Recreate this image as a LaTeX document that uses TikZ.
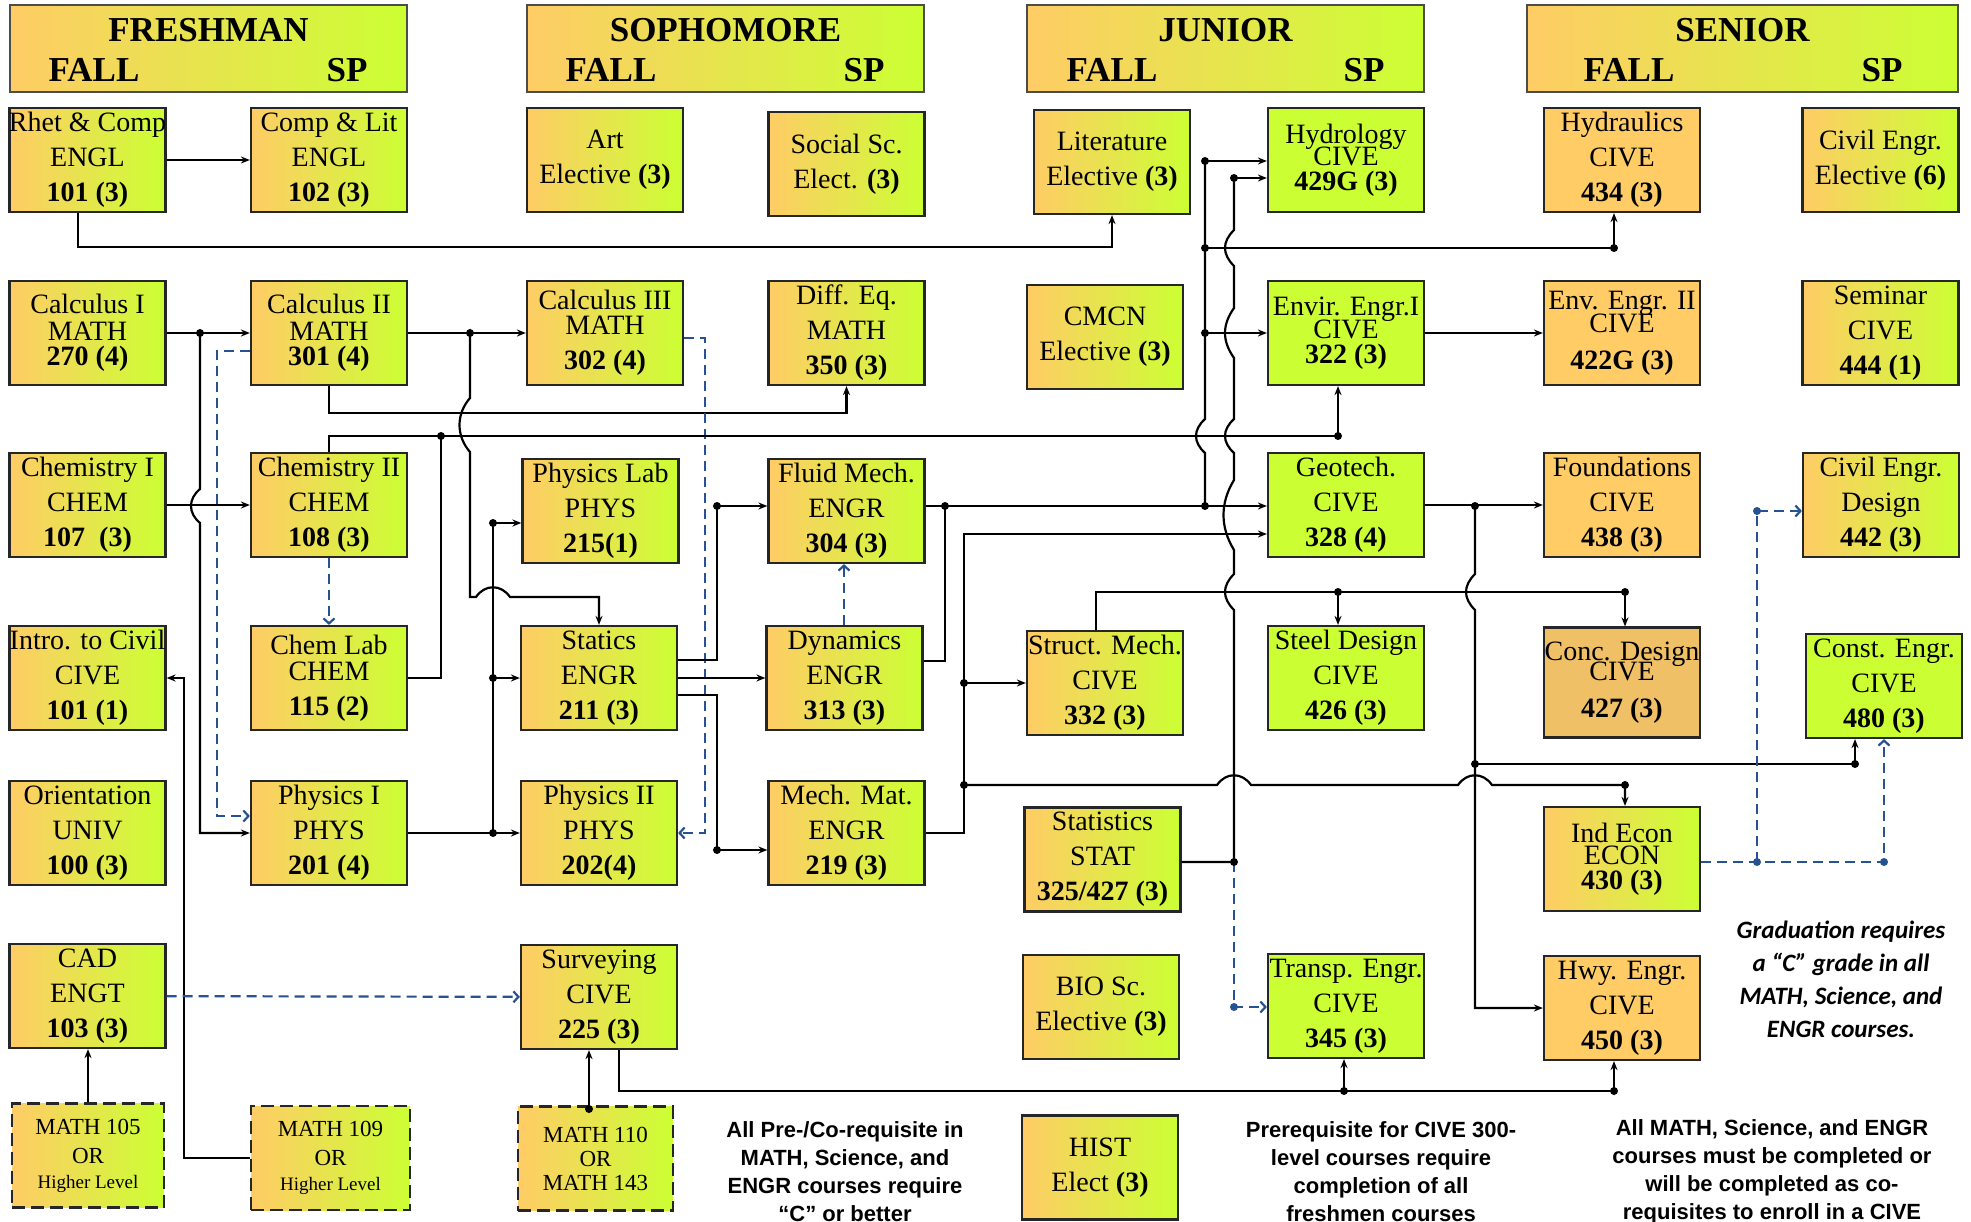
\documentclass[tikz,border=0pt]{standalone}
\usepackage{fontspec}
\setmainfont{Liberation Serif}
\newfontfamily\notefont{Liberation Sans}
\newfontfamily\gradfont{Carlito}
\usetikzlibrary{calc,arrows.meta}
\definecolor{orng}{RGB}{255,204,102}
\definecolor{lime}{RGB}{204,255,51}
\definecolor{tanc}{RGB}{240,192,102}
\definecolor{coblue}{RGB}{38,82,146}
\tikzset{
    course/.style={draw=black!85,line width=2.2pt,inner sep=0pt,minimum width=156pt,minimum height=104pt,align=center,left color=orng,right color=lime,font=\fontsize{28}{35}\selectfont},
    cgreen/.style={course,left color=lime,right color=lime},
    corange/.style={course,left color=orng,right color=orng},
    copt/.style={course,dash pattern=on 13pt off 6pt,font=\fontsize{23}{29}\selectfont},
    yearbox/.style={draw=black!70,line width=2pt,inner sep=0pt,minimum height=87pt,left color=orng,right color=lime},
    yeartxt/.style={inner sep=0pt,font=\fontsize{35}{35}\selectfont\bfseries},
    link/.style={line width=2.2pt},
    arr/.style={link,-{Stealth[length=9pt,width=7pt]}},
    coreq/.style={line width=2.2pt,draw=coblue,dash pattern=on 10pt off 6pt,-{Straight Barb[length=5pt,width=11pt]}},
    note/.style={align=center,font=\notefont\bfseries\fontsize{22}{28}\selectfont},
  }
\begin{document}
\begin{tikzpicture}[x=1pt,y=-1pt]
	\path[use as bounding box,fill=white] (0,0) rectangle (1971,1222);

	%YEARS
	\node[yearbox,minimum width=397pt] (fresh) at (208.5,48.5) {};
	\node[yeartxt] (freshN) at (208.5,30.5) {FRESHMAN};
	\node[yeartxt] (freshF) at (94,70) {FALL};
	\node[yeartxt] (freshS) at (347,70) {SP};
	\node[yearbox,minimum width=397pt] (soph) at (725.5,48.5) {};
	\node[yeartxt] (sophN) at (725.5,30.5) {SOPHOMORE};
	\node[yeartxt] (sophF) at (611,70) {FALL};
	\node[yeartxt] (sophS) at (864,70) {SP};
	\node[yearbox,minimum width=397pt] (jun) at (1225.5,48.5) {};
	\node[yeartxt] (junN) at (1225.5,30.5) {JUNIOR};
	\node[yeartxt] (junF) at (1112,70) {FALL};
	\node[yeartxt] (junS) at (1364,70) {SP};
	\node[yearbox,minimum width=431pt] (sen) at (1742.5,48.5) {};
	\node[yeartxt] (senN) at (1742.5,30.5) {SENIOR};
	\node[yeartxt] (senF) at (1629,70) {FALL};
	\node[yeartxt] (senS) at (1882,70) {SP};

	%ROW 1
	\node[course] (rhet) at (87.5,160) {\makebox[150pt]{Rhet \& Comp}\\ENGL\\\textbf{101 (3)}};
	\node[course] (comp) at (329,160) {Comp \& Lit\\ENGL\\\textbf{102 (3)}};
	\node[course] (art) at (605,160) {Art\\Elective \textbf{(3)}};
	\node[course] (soc) at (846.5,164) {Social Sc.\\Elect. \textbf{(3)}};
	\node[course] (lit) at (1112,162) {Literature\\Elective \textbf{(3)}};
	\node[cgreen] (hydro) at (1346,160) {Hydrology\\[-13pt]CIVE\\[-10pt]\textbf{429G (3)}};
	\node[corange] (hydra) at (1622,160) {Hydraulics\\CIVE\\\textbf{434 (3)}};
	\node[course] (cee) at (1880.5,160) {Civil Engr.\\Elective \textbf{(6)}};

	%ROW 2
	\node[course] (calc1) at (87.5,333) {Calculus I\\[-8pt]MATH\\[-10pt]\textbf{270 (4)}};
	\node[course] (calc2) at (329,333) {Calculus II\\[-8pt]MATH\\[-10pt]\textbf{301 (4)}};
	\node[course] (calc3) at (605,333) {Calculus III\\[-10pt]MATH\\\textbf{302 (4)}};
	\node[course] (diffeq) at (846.5,333) {Diff. Eq.\\MATH\\\textbf{350 (3)}};
	\node[course] (cmcn) at (1105,337) {CMCN\\Elective \textbf{(3)}};
	\node[cgreen] (envir1) at (1346,333) {Envir. Engr.I\\[-12pt]CIVE\\[-10pt]\textbf{322 (3)}};
	\node[corange] (envir2) at (1622,333) {Env. Engr. II\\[-12pt]CIVE\\[2pt]\textbf{422G (3)}};
	\node[course] (sem) at (1880.5,333) {Seminar\\CIVE\\\textbf{444 (1)}};

	%ROW 3
	\node[course] (chem1) at (87.5,505) {Chemistry I\\CHEM\\\textbf{107\ \ (3)}};
	\node[course] (chem2) at (329,505) {Chemistry II\\CHEM\\\textbf{108 (3)}};
	\node[course] (physlab) at (600.5,511) {Physics Lab\\PHYS\\\textbf{215(1)}};
	\node[course] (fluid) at (846.5,511) {Fluid Mech.\\ENGR\\\textbf{304 (3)}};
	\node[cgreen] (geotech) at (1346,505) {Geotech.\\CIVE\\\textbf{328 (4)}};
	\node[corange] (found) at (1622,505) {Foundations\\CIVE\\\textbf{438 (3)}};
	\node[course] (ced) at (1881,505) {Civil Engr.\\Design\\\textbf{442 (3)}};

	%ROW 4
	\node[course] (intro) at (87.5,678) {\makebox[150pt]{Intro. to Civil}\\CIVE\\\textbf{101 (1)}};
	\node[course] (chemlab) at (329,678) {Chem Lab\\[-9pt]CHEM\\\textbf{115 (2)}};
	\node[course] (statics) at (599,678) {Statics\\ENGR\\\textbf{211 (3)}};
	\node[course] (dyn) at (844.5,678) {Dynamics\\ENGR\\\textbf{313 (3)}};
	\node[course] (struct) at (1105,683) {Struct. Mech.\\CIVE\\\textbf{332 (3)}};
	\node[cgreen] (steel) at (1346,678) {Steel Design\\CIVE\\\textbf{426 (3)}};
	\node[course,left color=tanc,right color=tanc,minimum height=110pt] (conc) at (1622,682.5) {Conc. Design\\[-15pt]CIVE\\[2pt]\textbf{427 (3)}};
	\node[cgreen] (const) at (1884,686) {Const. Engr.\\CIVE\\\textbf{480 (3)}};

	%ROW 5
	\node[course] (orient) at (87.5,833) {Orientation\\UNIV\\\textbf{100 (3)}};
	\node[course] (phys1) at (329,833) {Physics I\\PHYS\\\textbf{201 (4)}};
	\node[course] (phys2) at (599,833) {Physics II\\PHYS\\\textbf{202(4)}};
	\node[course] (mech) at (846.5,833) {Mech. Mat.\\ENGR\\\textbf{219 (3)}};
	\node[course] (stat) at (1102.5,859.5) {Statistics\\STAT\\\textbf{325/427 (3)}};
	\node[course] (indecon) at (1622,859) {Ind Econ\\[-13pt]ECON\\[-10pt]\textbf{430 (3)}};

	%ROW 6
	\node[course] (cad) at (87.5,996) {CAD\\ENGT\\\textbf{103 (3)}};
	\node[course] (surv) at (599,997) {Surveying\\CIVE\\\textbf{225 (3)}};
	\node[course] (bio) at (1101,1007) {BIO Sc.\\Elective \textbf{(3)}};
	\node[cgreen] (transp) at (1346,1006) {Transp. Engr.\\CIVE\\\textbf{345 (3)}};
	\node[corange] (hwy) at (1622,1008) {Hwy. Engr.\\CIVE\\\textbf{450 (3)}};

	%ROW 7
	\node[copt,minimum width=152pt] (m105) at (88,1155.5) {MATH 105\\OR\\[-4pt]{\fontsize{19}{22}\selectfont Higher Level}};
	\node[copt,minimum width=159pt] (m109) at (330.5,1158) {MATH 109\\OR\\[-4pt]{\fontsize{19}{22}\selectfont Higher Level}};
	\node[copt,minimum width=155pt,font=\fontsize{23}{24}\selectfont] (m110) at (595.5,1158.5) {MATH 110\\OR\\MATH 143};
	\node[course] (hist) at (1100,1167.5) {HIST\\Elect \textbf{(3)}};

	%NOTES
	\node[note] (note1) at (845,1172) {All Pre-/Co-requisite in\\MATH, Science, and\\ENGR courses require\\“C” or better};
	\node[note] (note2) at (1381,1172) {Prerequisite for CIVE 300-\\level courses require\\completion of all\\freshmen courses};
	\node[note] (note3) at (1772,1172) {All MATH, Science, and ENGR\\courses must be completed or\\will be completed as co-\\requisites to enroll in a CIVE};
	\node[align=center,font=\gradfont\bfseries\itshape\fontsize{25}{33}\selectfont] (grad) at (1841,979) {Graduation requires\\a “C” grade in all\\MATH, Science, and\\ENGR courses.};

	%JUNCTIONS
	\coordinate (jCalc) at (200,333);
	\coordinate (jCalcB) at (470,333);
	\coordinate (jChem) at (441,436);
	\coordinate (jEnv) at (1338,436);
	\coordinate (jLab) at (493,523);
	\coordinate (jStat) at (493,678);
	\coordinate (jPhys) at (493,833);
	\coordinate (jFl) at (717,506);
	\coordinate (jMm) at (717,850);
	\coordinate (jDyn) at (945,506);
	\coordinate (jMech) at (964,683);
	\coordinate (jEcon) at (964,785);
	\coordinate (jGeo) at (1475,506);
	\coordinate (jConst) at (1475,764);
	\coordinate (jSurv) at (1344,1091);
	\coordinate (jHwy) at (1614,1091);
	\coordinate (jDes) at (1757,862);

	%ENGL
	\draw[arr] (rhet) -- (comp);
	\draw[arr] ($(rhet.south)+(-9.5,0)$) |- (lit.south |- 0,247) -- (lit.south);

	%MATH
	\draw[arr] (calc1) -- (calc2);
	\draw[arr] (calc2) -- (calc3);
	\draw[arr] (jCalc) -- (200,489) .. controls (188,499) and (188,513) .. (200,523) |- (phys1.west);
	\draw[coreq] (calc2.west |- 0,351) -| (217,816) -- (phys1.west |- 0,816);
	\draw[arr] (calc2.south) |- (diffeq.south |- 0,413) -- (diffeq.south);
	\draw[coreq] (calc3.east |- 0,338) -| (705,833) -- (phys2.east);
	\draw[arr] (jCalcB) -- (470,398) .. controls (456,414) and (456,436) .. (470,452) -- (470,597)
	           -- (476,597) .. controls (485,584) and (501,584) .. (510,597) -| (statics.north);

	%CHEM
	\draw[arr] (chem1) -- (chem2);
	\draw[coreq] (chem2.south) -- (chemlab.north);
	\draw[arr] (chem2.north) |- (jEnv) -- (jEnv |- envir1.south);
	\draw[link] (chemlab.east) -| (jChem);

	%PHYS
	\draw[arr] (phys1) -- (phys2);
	\draw[link] (jLab) -- (jPhys);
	\draw[arr] (jLab) -- (physlab.west |- jLab);
	\draw[arr] (jStat) -- (statics.west);
	\draw[arr] (m109.west) -| (184,678) -- (intro.east);
	\draw[arr] (m105.north) -- (m105.north |- cad.south);
	\draw[coreq] (cad) -- (surv);
	\draw[arr] (589,1109) -- (surv.south -| 589,0);

	%ENGR
	\draw[arr] (statics) -- (dyn);
	\draw[arr] (statics.east |- 0,660) -| (jFl) -- (fluid.west |- jFl);
	\draw[arr] (statics.east |- 0,695) -| (jMm) -- (mech.west |- jMm);
	\draw[coreq] (dyn.north -| 844,0) -- (fluid.south -| 844,0);
	\draw[arr] (fluid.east |- jFl) -- (geotech.west |- jFl);
	\draw[link] (dyn.east |- 0,661) -| (jDyn);
	\draw[arr] (mech.east) -| (964,534) -- (geotech.west |- 0,534);
	\draw[arr] (jMech) -- (struct.west);
	\draw[arr] (jEcon) -- (1217,785) .. controls (1226,772) and (1242,772) .. (1251,785)
	           -- (1458,785) .. controls (1467,772) and (1483,772) .. (1492,785) -| (indecon.north -| 1625,0);

	%CIVE
	\draw[link] (1205,161) -- (1205,419) .. controls (1193,430) and (1193,442) .. (1205,453) -- (1205,506);
	\draw[arr] (1205,161) -- (hydro.west |- 0,161);
	\draw[arr] (1205,333) -- (envir1.west);
	\draw[arr] (1205,248) -| (hydra.south -| 1614,0);
	\draw[link] (1234,178) -- (1234,230) .. controls (1222,242) and (1222,254) .. (1234,266)
	            -- (1234,308) .. controls (1222,325) and (1222,341) .. (1234,358)
	            -- (1234,419) .. controls (1222,430) and (1222,442) .. (1234,453)
	            -- (1234,480) .. controls (1220,503) and (1220,527) .. (1234,550)
	            -- (1234,574) .. controls (1222,586) and (1222,598) .. (1234,610)
	            -- (1234,862) -- (stat.east |- 0,862);
	\draw[arr] (1234,178) -- (hydro.west |- 0,178);
	\draw[coreq] (1234,862) -- (1234,1007) -- (transp.west |- 0,1007);
	\draw[arr] (envir1) -- (envir2);
	\draw[link] (struct.north -| 1096,0) |- (1625,592);
	\draw[arr] (1338,592) -- (steel.north -| 1338,0);
	\draw[arr] (1625,592) -- (conc.north -| 1625,0);
	\draw[arr] (geotech) -- (found);
	\draw[arr] (jGeo) -- (1475,574) .. controls (1463,586) and (1463,598) .. (1475,610) |- (hwy.west);
	\draw[arr] (jConst) -| ($(const.south)+(-29,0)$);
	\draw[link] (surv.south -| 619,0) |- (jHwy);
	\draw[arr] (jSurv) -- (transp.south -| jSurv);
	\draw[arr] (jHwy) -- (hwy.south -| jHwy);
	\draw[coreq] (indecon.east |- jDes) -| (const.south);
	\draw[coreq] (jDes) |- (ced.west |- 0,511);

	%DOTS
	\foreach \p in {(jCalc),(jCalcB),(jChem),(jEnv),(jLab),(jStat),(jPhys),(jFl),(jMm),(jDyn),(jMech),(jEcon),(jGeo),(jConst),(jSurv),(jHwy),
	                (1205,161),(1205,248),(1205,333),(1205,506),(1234,178),(1234,862),(1625,785),(1338,592),(1625,592),(1855,764),(1614,248),(589,1109)}
	  \fill \p circle (4pt);
	\foreach \p in {(1234,1007),(jDes),(1884,862),(1757,511)}
	  \fill[coblue] \p circle (4pt);
\end{tikzpicture}
\end{document}
